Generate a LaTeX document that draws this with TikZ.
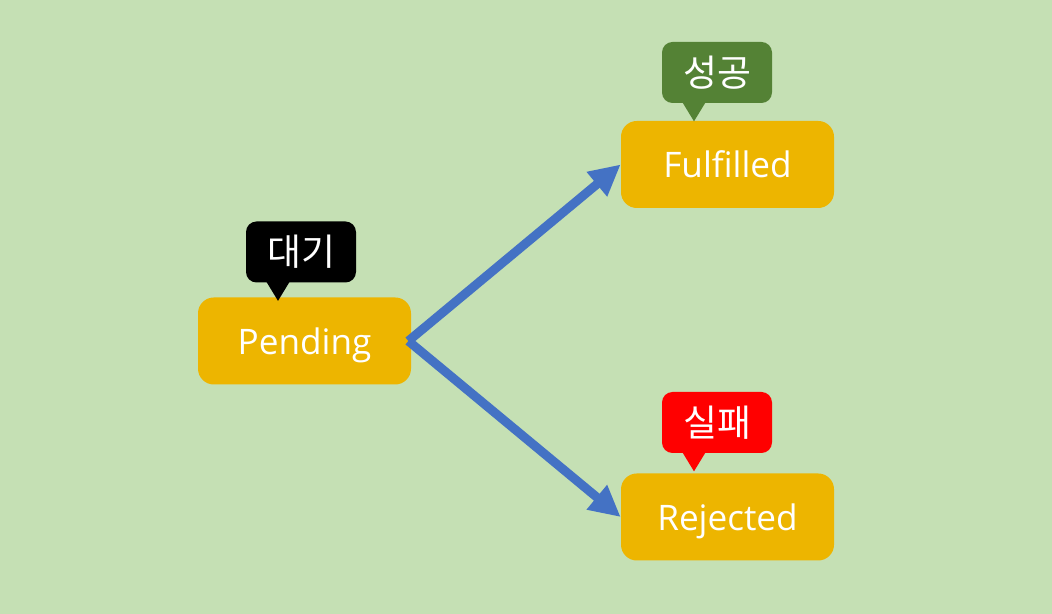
\documentclass[tikz,border=0pt]{standalone}
\usepackage{fontspec}
\setmainfont{Open Sans}
\newfontfamily\kr{Noto Sans CJK KR}
\usepackage{tikz}
\usetikzlibrary{arrows.meta,calc}
\definecolor{bgreen}{HTML}{C5E0B4}
\definecolor{stgold}{HTML}{EDB500}
\definecolor{arblue}{HTML}{4472C4}
\definecolor{okgreen}{HTML}{548235}
\definecolor{ngred}{HTML}{FF0000}
\tikzstyle{state}=[rectangle, fill=stgold, rounded corners=9pt,% gold state box
minimum width=4.26cm, minimum height=1.74cm, text height=19pt, text depth=4pt,
text=white, font=\fontsize{20}{24}\selectfont]
\tikzstyle{tag}=[rectangle, rounded corners=6pt,% speech bubble above a state
minimum width=2.2cm, minimum height=1.22cm, text=white, font=\kr\fontsize{21}{24}\selectfont]
\tikzstyle{flow}=[-{Triangle[length=0.62cm,width=0.6cm]}, arblue, line width=0.18cm, miter limit=10]

\begin{document}
\begin{tikzpicture}
\fill[bgreen] (0,0) rectangle (21.04,12.28);
\useasboundingbox (0,0) rectangle (21.04,12.28);

\node[state] (pend) at (6.09,5.46) {Pending};
\node[state] (ful) at (14.55,8.99) {Fulfilled};
\node[state] (rej) at (14.55,1.94) {Rejected};

\node[tag, fill=black] (wait) at (6.02,7.24) {대기};
\node[tag, fill=okgreen] (ok) at (14.34,10.83) {성공};
\node[tag, fill=ngred] (ng) at (14.34,3.83) {실패};

% pointers of the bubbles
\foreach \t/\c in {wait/black, ok/okgreen, ng/ngred}{
  \fill[\c] ([xshift=-0.74cm,yshift=0.1cm]\t.south) -- ([xshift=-0.46cm,yshift=-0.36cm]\t.south)
    -- ([xshift=-0.18cm,yshift=0.1cm]\t.south) -- cycle;
}

\draw[flow] ([xshift=-0.06cm]pend.east) -- (ful.west);
\draw[flow] ([xshift=-0.06cm]pend.east) -- (rej.west);

\end{tikzpicture}
\end{document}
